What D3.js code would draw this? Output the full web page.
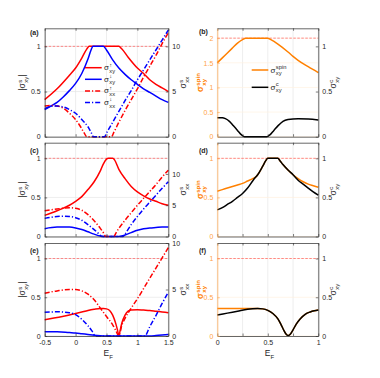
<!DOCTYPE html>
<html>
<head>
<meta charset="utf-8">
<script src="https://cdn.jsdelivr.net/npm/d3@7"></script>
<style>
  body { margin: 0; background: #fff; }
  text { font-family: "Liberation Sans", Arial, sans-serif; }
</style>
</head>
<body>
<svg id="fig" width="380" height="378"></svg>
<script>
// ---- data ----
// left column: E_F on x, |sigma^s_xy| on left axis, sigma^s_xx on right axis
const eTicks = [-0.5, 0, 0.5, 1, 1.5];
const fTicks = [0, 0.25, 0.5, 0.75, 1];
const fTickLabels = [0, 0.5, 1];

const aUpXy = [[-0.5,0.41],[-0.3,0.53],[-0.1,0.68],[0,0.76],[0.1,0.87],[0.18,0.97],[0.22,1],[0.7,1],[0.75,0.97],[0.85,0.88],[1,0.76],[1.1,0.7],[1.2,0.63],[1.3,0.58],[1.4,0.54],[1.5,0.5]];
const aDnXy = [[-0.5,0.3],[-0.4,0.34],[-0.3,0.38],[-0.2,0.44],[-0.1,0.51],[0,0.59],[0.1,0.7],[0.2,0.86],[0.25,0.96],[0.28,1],[0.45,1],[0.5,0.96],[0.6,0.85],[0.7,0.76],[0.8,0.69],[0.9,0.63],[1,0.58],[1.1,0.53],[1.2,0.49],[1.3,0.45],[1.4,0.41],[1.5,0.38]];
const aUpXx = [[-0.5,3.4],[-0.4,3.45],[-0.3,3.4],[-0.2,3.15],[-0.1,2.6],[0,1.9],[0.08,1.1],[0.14,0.4],[0.18,0],[0.58,0],[0.62,0.5],[0.7,1.6],[0.8,2.9],[0.9,4.1],[1,5.3],[1.1,6.6],[1.2,7.8],[1.3,9],[1.4,10.3],[1.5,11.5]];
const aDnXx = [[-0.5,3.1],[-0.4,3.35],[-0.3,3.4],[-0.2,3.3],[-0.1,3],[0,2.6],[0.1,1.9],[0.2,1.1],[0.25,0.5],[0.29,0],[0.47,0],[0.5,0.4],[0.6,1.6],[0.7,2.8],[0.8,4],[0.9,5.1],[1,6.3],[1.1,7.4],[1.2,8.5],[1.3,9.6],[1.4,10.7],[1.5,11.8]];

const cUpXy = [[-0.5,0.27],[-0.3,0.33],[-0.1,0.4],[0,0.45],[0.1,0.51],[0.2,0.6],[0.3,0.7],[0.4,0.84],[0.45,0.93],[0.5,0.99],[0.53,1],[0.6,1],[0.63,0.98],[0.7,0.86],[0.8,0.74],[0.9,0.64],[1,0.57],[1.1,0.52],[1.2,0.48],[1.3,0.45],[1.4,0.42],[1.5,0.4]];
const cDnXy = [[-0.5,0.1],[-0.3,0.12],[-0.1,0.12],[0,0.11],[0.1,0.09],[0.2,0.06],[0.3,0.03],[0.4,0.005],[0.45,0],[0.7,0],[0.8,0.02],[0.9,0.05],[1,0.08],[1.1,0.1],[1.2,0.11],[1.3,0.115],[1.4,0.12],[1.5,0.12]];
const cUpXx = [[-0.5,4.1],[-0.3,4.4],[-0.1,4.6],[0,4.5],[0.1,4.2],[0.2,3.5],[0.3,2.5],[0.4,1.3],[0.45,0.6],[0.49,0],[0.62,0],[0.65,0.5],[0.7,1.3],[0.8,2.6],[0.9,3.8],[1,5],[1.1,6.1],[1.2,7.2],[1.3,8.3],[1.4,9.5],[1.5,10.6]];
const cDnXx = [[-0.5,2.9],[-0.3,3.2],[-0.2,3.25],[-0.1,3.2],[0,3],[0.1,2.6],[0.2,1.9],[0.3,1.1],[0.38,0.4],[0.42,0],[0.77,0],[0.8,0.4],[0.9,1.9],[1,3.2],[1.1,4.4],[1.2,5.5],[1.3,6.6],[1.4,7.7],[1.5,8.75]];

const eUpXy = [[-0.5,0.21],[-0.3,0.24],[-0.1,0.27],[0,0.29],[0.1,0.31],[0.2,0.33],[0.3,0.345],[0.4,0.355],[0.45,0.355],[0.5,0.35],[0.55,0.33],[0.6,0.27],[0.65,0.16],[0.68,0.07],[0.7,0],[0.72,0.07],[0.75,0.17],[0.8,0.27],[0.85,0.32],[0.9,0.335],[1,0.34],[1.1,0.335],[1.2,0.33],[1.3,0.32],[1.4,0.31],[1.5,0.3]];
const eDnXy = [[-0.5,0.055],[-0.3,0.055],[-0.1,0.045],[0,0.04],[0.1,0.03],[0.2,0.02],[0.3,0.01],[0.4,0.003],[0.5,0],[1.2,0],[1.3,0.005],[1.4,0.012],[1.5,0.02]];
const eUpXx = [[-0.5,4.6],[-0.3,4.85],[-0.1,5],[0,5],[0.1,4.85],[0.2,4.5],[0.3,3.9],[0.4,3],[0.5,2.1],[0.6,1.2],[0.65,0.6],[0.7,0],[0.75,1.2],[0.8,1.9],[0.9,3],[1,4],[1.1,5.1],[1.2,6.2],[1.3,7.3],[1.4,8.4],[1.5,9.5]];
const eDnXx = [[-0.5,2.55],[-0.3,2.6],[-0.1,2.5],[0,2.3],[0.1,1.8],[0.2,1.1],[0.27,0.5],[0.32,0],[1.12,0],[1.2,1],[1.3,2.2],[1.4,3.5],[1.5,4.7]];

// right column: sigma^spin_xy (left axis, orange) and sigma^c_xy (right axis, black)
const bSpin = [[0,1.5],[0.05,1.6],[0.1,1.7],[0.15,1.8],[0.2,1.9],[0.25,1.97],[0.28,2],[0.5,2],[0.53,1.97],[0.6,1.88],[0.7,1.72],[0.75,1.63],[0.8,1.55],[0.9,1.42],[1,1.3]];
const bCharge = [[0,0.21],[0.05,0.21],[0.08,0.2],[0.12,0.17],[0.16,0.12],[0.2,0.07],[0.24,0.02],[0.27,0],[0.49,0],[0.52,0.02],[0.56,0.07],[0.6,0.12],[0.65,0.17],[0.7,0.19],[0.8,0.2],[0.9,0.195],[1,0.185]];

const dSpin = [[0,0.58],[0.05,0.6],[0.1,0.62],[0.15,0.64],[0.2,0.66],[0.25,0.68],[0.3,0.71],[0.35,0.74],[0.38,0.76],[0.4,0.79],[0.45,0.9],[0.48,0.97],[0.5,1],[0.6,1],[0.62,0.97],[0.65,0.92],[0.7,0.85],[0.75,0.79],[0.8,0.74],[0.85,0.7],[0.9,0.67],[0.95,0.65],[1,0.63]];
const dCharge = [[0,0.34],[0.05,0.37],[0.1,0.41],[0.15,0.45],[0.2,0.5],[0.25,0.55],[0.3,0.62],[0.35,0.71],[0.38,0.76],[0.4,0.79],[0.45,0.9],[0.48,0.97],[0.5,1],[0.6,1],[0.62,0.97],[0.65,0.92],[0.7,0.85],[0.75,0.79],[0.8,0.72],[0.85,0.67],[0.9,0.62],[0.95,0.57],[1,0.53]];

const fSpin = [[0,0.355],[0.1,0.355],[0.2,0.355],[0.3,0.355],[0.35,0.355],[0.4,0.355],[0.45,0.35],[0.5,0.33],[0.55,0.29],[0.6,0.22],[0.63,0.15],[0.66,0.07],[0.68,0.025],[0.7,0.005],[0.72,0.02],[0.75,0.08],[0.78,0.15],[0.82,0.22],[0.87,0.28],[0.92,0.31],[0.96,0.325],[1,0.335]];
const fCharge = [[0,0.27],[0.1,0.295],[0.2,0.32],[0.3,0.345],[0.35,0.352],[0.4,0.355],[0.45,0.35],[0.5,0.33],[0.55,0.29],[0.6,0.22],[0.63,0.15],[0.66,0.07],[0.68,0.025],[0.7,0.005],[0.72,0.02],[0.75,0.08],[0.78,0.15],[0.82,0.22],[0.87,0.28],[0.92,0.31],[0.96,0.325],[1,0.335]];

// ---- drawing ----
const svg = d3.select("#fig");
const INK = "#262626";
const RED = "#ff0000", BLUE = "#0000ff", ORANGE = "#ff8000", ORANGE_AX = "#ffa347";
const DASHDOT = "5,2,1.2,2";

const colL = { x0: 44.7, x1: 168.3 }, colR = { x0: 217.3, x1: 318.3 };
const rows = [{ y0: 28.3, y1: 136.7 }, { y0: 142.7, y1: 236.5 }, { y0: 243, y1: 336 }];

// text with stacked super/subscripts, e.g. sigma^s_xy
function richText(parent, parts, size, color, weight) {
    let g = parent.append("g");
    let cx = 0;
    parts.forEach(p => {
        if (p.t !== undefined) {
            let t = g.append("text").attr("x", cx).attr("y", 0)
                .attr("font-size", size).attr("fill", color)
                .attr("font-weight", weight || "normal").text(p.t);
            cx += t.node().getComputedTextLength();
        } else {
            let s = size * 0.72;
            let a = g.append("text").attr("x", cx + 0.4).attr("y", -size * 0.45)
                .attr("font-size", s).attr("fill", color).attr("font-weight", weight || "normal").text(p.sup);
            let b = g.append("text").attr("x", cx + 0.4).attr("y", size * 0.33)
                .attr("font-size", s).attr("fill", color).attr("font-weight", weight || "normal").text(p.sub);
            cx += 0.4 + Math.max(a.node().getComputedTextLength(), b.node().getComputedTextLength());
        }
    });
    return { g: g, width: cx };
}

function vLabel(cx, cy, parts, size, color, weight) {
    let outer = svg.append("g").attr("transform", "translate(" + cx + "," + cy + ") rotate(-90)");
    let r = richText(outer, parts, size, color, weight);
    r.g.attr("transform", "translate(" + (-r.width / 2) + "," + (size * 0.35) + ")");
}

function panel(cfg) {
    let col = cfg.col, row = cfg.row;
    let g = svg.append("g");
    let x = d3.scaleLinear().domain(cfg.xDom).range([col.x0, col.x1]);
    let yL = d3.scaleLinear().domain(cfg.yLDom).range([row.y1, row.y0]);
    let yR = d3.scaleLinear().domain(cfg.yRDom).range([row.y1, row.y0]);

    // grid
    g.selectAll(".vg").data(cfg.xTicks).join("line")
        .attr("x1", d => x(d)).attr("x2", d => x(d))
        .attr("y1", row.y0).attr("y2", row.y1)
        .attr("stroke", "#e6e6e6").attr("stroke-width", 0.7);
    g.selectAll(".hg").data(cfg.yLTicks).join("line")
        .attr("x1", col.x0).attr("x2", col.x1)
        .attr("y1", d => yL(d)).attr("y2", d => yL(d))
        .attr("stroke", cfg.hGrid).attr("stroke-width", 0.7);

    // reference dashed line
    g.append("line")
        .attr("x1", col.x0).attr("x2", col.x1)
        .attr("y1", yL(cfg.ref)).attr("y2", yL(cfg.ref))
        .attr("stroke", "#ff5a5a").attr("stroke-width", 0.7)
        .attr("stroke-dasharray", "2.5,1.5");

    for (let s of cfg.series) {
        let ys = s.axis === "R" ? yR : yL;
        let line = d3.line()
            .x(d => x(d[0]))
            .y(d => ys(d[1]))
            .curve(d3.curveMonotoneX);
        g.append("path")
            .datum(s.data)
            .attr("d", line)
            .attr("fill", "none")
            .attr("stroke", s.color)
            .attr("stroke-width", 1.5)
            .attr("stroke-dasharray", s.dash || null);
    }

    // axes, MATLAB style ticks pointing in
    let fmt = d => String(d);
    let ax;
    ax = g.append("g").attr("transform", "translate(0," + row.y1 + ")")
        .call(d3.axisBottom(x).tickValues(cfg.xTicks).tickSizeInner(-2.5).tickSizeOuter(0).tickPadding(4)
            .tickFormat(d => (cfg.showX && cfg.xLabels.includes(d)) ? fmt(d) : ""));
    styleAxis(ax, INK);
    ax = g.append("g").attr("transform", "translate(0," + row.y0 + ")")
        .call(d3.axisTop(x).tickValues(cfg.xTicks).tickSizeInner(-2.5).tickSizeOuter(0).tickFormat(""));
    styleAxis(ax, INK);
    ax = g.append("g").attr("transform", "translate(" + col.x0 + ",0)")
        .call(d3.axisLeft(yL).tickValues(cfg.yLTicks).tickSizeInner(-2.5).tickSizeOuter(0).tickPadding(4).tickFormat(fmt));
    styleAxis(ax, cfg.leftColor);
    ax = g.append("g").attr("transform", "translate(" + col.x1 + ",0)")
        .call(d3.axisRight(yR).tickValues(cfg.yRTicks).tickSizeInner(-2.5).tickSizeOuter(0).tickPadding(4).tickFormat(fmt));
    styleAxis(ax, INK);

    // panel tag
    svg.append("text").attr("x", cfg.tagX).attr("y", cfg.tagY)
        .attr("font-size", 7).attr("font-weight", "bold").attr("fill", INK)
        .text(cfg.tag);

    return { x: x, yL: yL, yR: yR };
}

function styleAxis(ax, color) {
    ax.select(".domain").attr("stroke", color).attr("stroke-width", 0.7);
    ax.selectAll(".tick line").attr("stroke", color).attr("stroke-width", 0.6);
    ax.selectAll(".tick text").attr("fill", color).attr("font-size", 7)
        .attr("font-family", "Liberation Sans, Arial, sans-serif");
}

const tagYs = [34.5, 152.5, 252.5];

// left column
const leftSeries = [
    [aUpXy, aDnXy, aUpXx, aDnXx, [0, 12]],
    [cUpXy, cDnXy, cUpXx, cDnXx, [0, 15]],
    [eUpXy, eDnXy, eUpXx, eDnXx, [0, 10]]
];
leftSeries.forEach((s, i) => {
    panel({
        col: colL, row: rows[i], xDom: [-0.5, 1.5], xTicks: eTicks, xLabels: eTicks, showX: i === 2,
        yLDom: [0, 1.2], yLTicks: [0, 0.5, 1], yRDom: s[4], yRTicks: [0, 5, 10],
        hGrid: "#e6e6e6", leftColor: INK, ref: 1, tag: "(" + "ace"[i] + ")",
        tagX: 30, tagY: tagYs[i],
        series: [
            { data: s[0], color: RED },
            { data: s[1], color: BLUE },
            { data: s[2], color: RED, dash: DASHDOT, axis: "R" },
            { data: s[3], color: BLUE, dash: DASHDOT, axis: "R" }
        ]
    });
    let cy = (rows[i].y0 + rows[i].y1) / 2;
    vLabel(22.5, cy, [{ t: "|σ" }, { sup: "s", sub: "xy" }, { t: "|" }], 8.5, INK);
    vLabel(183.5, cy, [{ t: "σ" }, { sup: "s", sub: "xx" }], 8.5, INK);
});

// right column
const rightSeries = [
    [bSpin, bCharge, [0, 2.2], [0, 0.5, 1, 1.5, 2], 2],
    [dSpin, dCharge, [0, 1.2], [0, 0.5, 1], 1],
    [fSpin, fCharge, [0, 1.2], [0, 0.5, 1], 1]
];
rightSeries.forEach((s, i) => {
    panel({
        col: colR, row: rows[i], xDom: [0, 1], xTicks: fTicks, xLabels: fTickLabels, showX: i === 2,
        yLDom: s[2], yLTicks: s[3], yRDom: [0, 1.2], yRTicks: [0, 0.5, 1],
        hGrid: "#fff0e0", leftColor: ORANGE_AX, ref: s[4], tag: "(" + "bdf"[i] + ")",
        tagX: 199, tagY: i === 0 ? 33.5 : tagYs[i],
        series: [
            { data: s[0], color: ORANGE },
            { data: s[1], color: "#000", axis: "R" }
        ]
    });
    let cy = (rows[i].y0 + rows[i].y1) / 2;
    vLabel(200.5, cy, [{ t: "σ" }, { sup: "spin", sub: "xy" }], 8.5, ORANGE, "bold");
    vLabel(333.5, cy, [{ t: "σ" }, { sup: "c", sub: "xy" }], 8.5, INK);
});

// x axis titles
[[colL, 106.5], [colR, 267.8]].forEach(c => {
    let t = svg.append("text").attr("x", c[1] - 3).attr("y", 356).attr("font-size", 8.5).attr("fill", INK);
    t.append("tspan").text("E");
    t.append("tspan").attr("font-size", 6).attr("dy", 2.5).text("F");
});

// legend (a)
const legA = [
    { color: RED, sup: "↑", sub: "xy" },
    { color: BLUE, sup: "↓", sub: "xy" },
    { color: RED, sup: "↑", sub: "xx", dash: DASHDOT },
    { color: BLUE, sup: "↓", sub: "xx", dash: DASHDOT }
];
legA.forEach((d, i) => {
    let y = 67.7 + i * 11.6;
    svg.append("line").attr("x1", 85).attr("x2", 101.7).attr("y1", y).attr("y2", y)
        .attr("stroke", d.color).attr("stroke-width", 1.5).attr("stroke-dasharray", d.dash || null);
    let r = richText(svg, [{ t: "σ" }, { sup: d.sup, sub: d.sub }], 8, INK);
    r.g.attr("transform", "translate(104," + (y + 2.5) + ")");
});

// legend (b)
const legB = [
    { color: ORANGE, sup: "spin", sub: "xy" },
    { color: "#000", sup: "c", sub: "xy" }
];
legB.forEach((d, i) => {
    let y = 70 + i * 17.3;
    svg.append("line").attr("x1", 251.7).attr("x2", 268.3).attr("y1", y).attr("y2", y)
        .attr("stroke", d.color).attr("stroke-width", 1.5);
    let r = richText(svg, [{ t: "σ" }, { sup: d.sup, sub: d.sub }], 8, INK);
    r.g.attr("transform", "translate(270.5," + (y + 2.5) + ")");
});
</script>
</body>
</html>
